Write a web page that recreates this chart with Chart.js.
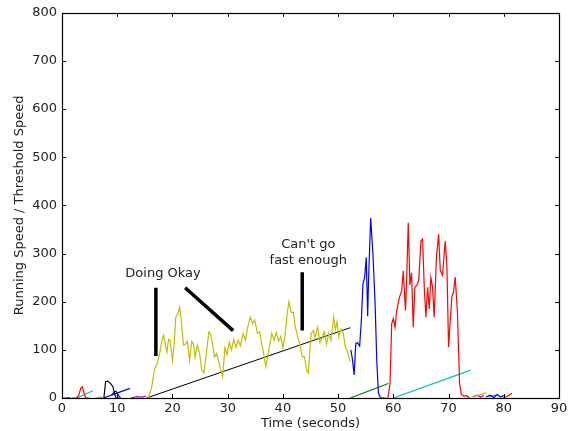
<!DOCTYPE html>
<html>
<head>
<meta charset="utf-8">
<script src="https://cdn.jsdelivr.net/npm/chart.js@4/dist/chart.umd.min.js"></script>
<style>
  html, body { margin: 0; padding: 0; background: #fff; }
  #wrap { width: 578px; height: 431px; }
</style>
</head>
<body>
<div id="wrap"><canvas id="speedChart" width="578" height="431"></canvas></div>
<script>
// tick values
const xTicks = [0, 10, 20, 30, 40, 50, 60, 70, 80, 90];
const yTicks = [0, 100, 200, 300, 400, 500, 600, 700, 800];

// main runs (time in seconds, speed ratio)
const yellowT = [15.6, 16.2, 16.8, 17.2, 17.7, 18.1, 18.4, 18.7, 19.0, 19.3, 19.6, 20.0, 20.3, 20.6, 21.0, 21.3, 21.6, 22.0, 22.4, 22.7,
  23.1, 23.5, 23.8, 24.1, 24.5, 24.9, 25.3, 25.7, 26.2, 26.6, 26.9, 27.3, 27.6, 28.0, 28.3, 28.6, 29.1, 29.5, 29.9, 30.3,
  30.7, 31.1, 31.5, 31.9, 32.3, 32.8, 33.2, 33.6, 34.1, 34.5, 34.9, 35.4, 35.8, 36.2, 36.5, 36.9, 37.3, 37.7, 38.0, 38.4,
  38.8, 39.2, 39.6, 40.0, 40.4, 40.8, 41.1, 41.5, 41.9, 42.2, 42.7, 43.1, 43.5, 43.9, 44.3, 44.6, 45.1, 45.5, 45.8, 46.3,
  46.7, 47.1, 47.5, 47.9, 48.3, 48.7, 49.2, 49.5, 49.8, 50.1, 50.5, 50.9, 51.3, 51.7, 52.2];
const yellowV = [0, 20, 62, 70, 93, 120, 130, 112, 95, 122, 118, 78, 110, 168, 175, 189, 160, 110, 112, 118,
  78, 118, 112, 85, 110, 95, 58, 52, 99, 137, 133, 110, 85, 92, 80, 65, 44, 104, 90, 116,
  100, 122, 105, 120, 108, 134, 120, 145, 168, 155, 162, 134, 138, 110, 93, 65, 90, 115, 134, 120,
  136, 118, 128, 104, 130, 178, 200, 178, 178, 150, 127, 110, 86, 86, 58, 52, 134, 140, 125, 147,
  115, 125, 138, 112, 134, 120, 168, 143, 158, 127, 143, 136, 108, 96, 75];

const blueT = [52.3, 52.6, 52.9, 53.2, 53.5, 53.9, 54.2, 54.5, 54.8, 55.1, 55.35, 55.5, 55.9, 56.3, 56.7, 57.0, 57.3, 57.7, 58.6];
const blueV = [100, 80, 48, 113, 115, 108, 160, 237, 250, 292, 170, 240, 374, 300, 196, 78, 10, 0, 0];

const redT = [59.0, 59.4, 59.7, 60.0, 60.3, 60.6, 61.1, 61.5, 61.8, 62.2, 62.4, 62.7, 63.0, 63.3, 63.6, 63.9, 64.3, 64.6, 65.0, 65.3,
  65.6, 65.9, 66.2, 66.5, 66.8, 67.1, 67.4, 67.8, 68.2, 68.5, 68.9, 69.4, 69.7, 70.0, 70.3, 70.6, 70.9, 71.2, 71.6, 72.0,
  72.3, 72.7, 73.3, 73.8];
const redV = [0, 30, 154, 165, 147, 180, 209, 222, 264, 182, 240, 364, 235, 260, 147, 230, 235, 245, 326, 330,
  230, 168, 230, 185, 250, 230, 168, 292, 340, 265, 255, 326, 275, 106, 160, 210, 220, 251, 180, 30,
  8, 4, 5, 0];

// straight trend segments
const blackT = [15.3, 52.2];
const blackV = [0, 146];
const greenT = [52.2, 59.1];
const greenV = [0, 30];
const cyanT = [60.0, 74.0];
const cyanV = [0, 58];

// short early/late runs near zero
const redAT = [1.8, 2.6, 3.0, 3.4, 3.7, 4.0, 4.3, 5.0];
const redAV = [0, 0, 5, 20, 23, 10, 0, 0];
const cyanAT = [2.7, 5.6];
const cyanAV = [0, 15];
const blackAT = [7.2, 7.6, 7.9, 8.3, 8.8, 9.2, 9.5, 9.8, 10.4];
const blackAV = [0, 2, 34, 35, 30, 24, 10, 0, 0];
const blueAT = [7.5, 12.3];
const blueAV = [0, 20];
const blueBT = [9.0, 9.4, 9.8, 10.2, 10.6];
const blueBV = [6, 12, 14, 6, 0];
const magentaAT = [12.5, 13.5, 14.5, 15.2];
const magentaAV = [0, 3, 2, 4];
const yellowAT = [6.0, 7.0, 7.6];
const yellowAV = [0, 2, 1];
const greenAT = [0.3, 1.5];
const greenAV = [0, 1];
const yellowBT = [74.2, 75.5, 76.9];
const yellowBV = [2, 6, 11];
const magentaBT = [74.5, 75.2, 75.8, 76.4];
const magentaBV = [3, 6, 2, 5];
const blueCT = [76.8, 77.5, 78.2, 78.8, 79.4, 80.0];
const blueCV = [2, 6, 1, 7, 2, 5];
const greenBT = [77.3, 78.6];
const greenBV = [3, 6];
const redBT = [79.9, 80.7, 81.5];
const redBV = [0, 4, 10];

// annotation pointers
const ann1T = [17.0, 17.0];
const ann1V = [229, 87];
const ann2T = [22.3, 31.0];
const ann2V = [229, 140];
const ann3T = [43.5, 43.5];
const ann3V = [261, 140];

const notes = [
  { text: 'Doing Okay', t: 18.3, v: 258 },
  { text: "Can't go", t: 44.6, v: 318 },
  { text: 'fast enough', t: 44.6, v: 285 }
];

const FONT = 'DejaVu Sans';
const TEXT = '#222';

function pts(ts, vs) {
  return ts.map((t, i) => ({ x: t, y: vs[i] }));
}

function series(ts, vs, color, width) {
  return {
    data: pts(ts, vs),
    borderColor: color,
    borderWidth: width || 1.2,
    pointRadius: 0,
    tension: 0,
    fill: false
  };
}

// matplotlib-style frame: box + inward ticks on all four sides, plus text notes
const framePlugin = {
  id: 'frame',
  afterDatasetsDraw(chart) {
    const { ctx, chartArea: a, scales } = chart;
    ctx.save();
    ctx.strokeStyle = '#000';
    ctx.lineWidth = 1;
    ctx.beginPath();
    xTicks.forEach(v => {
      const px = Math.round(scales.x.getPixelForValue(v)) + 0.5;
      ctx.moveTo(px, a.bottom); ctx.lineTo(px, a.bottom - 4);
      ctx.moveTo(px, a.top); ctx.lineTo(px, a.top + 4);
    });
    yTicks.forEach(v => {
      const py = Math.round(scales.y.getPixelForValue(v)) + 0.5;
      ctx.moveTo(a.left, py); ctx.lineTo(a.left + 4, py);
      ctx.moveTo(a.right, py); ctx.lineTo(a.right - 4, py);
    });
    ctx.stroke();
    ctx.lineWidth = 1.2;
    ctx.strokeRect(Math.round(a.left) + 0.5, Math.round(a.top) + 0.5,
      Math.round(a.right - a.left), Math.round(a.bottom - a.top));

    ctx.fillStyle = TEXT;
    ctx.font = '13px "' + FONT + '"';
    ctx.textAlign = 'center';
    ctx.textBaseline = 'middle';
    notes.forEach(n => {
      ctx.fillText(n.text, scales.x.getPixelForValue(n.t), scales.y.getPixelForValue(n.v));
    });
    ctx.restore();
  }
};

new Chart(document.getElementById('speedChart'), {
  type: 'line',
  data: {
    datasets: [
      series(greenAT, greenAV, '#008000'),
      series(redAT, redAV, '#ff0000'),
      series(cyanAT, cyanAV, '#00bfbf'),
      series(yellowAT, yellowAV, '#e0a000'),
      series(blackAT, blackAV, '#000000'),
      series(blueAT, blueAV, '#0000ff'),
      series(blueBT, blueBV, '#0000ff'),
      series(magentaAT, magentaAV, '#bf00bf'),
      series(yellowT, yellowV, '#bfbf00'),
      series(blueT, blueV, '#0000ff'),
      series(redT, redV, '#ff0000'),
      series(blackT, blackV, '#000000', 1),
      series(greenT, greenV, '#008000'),
      series(cyanT, cyanV, '#00bfbf'),
      series(yellowBT, yellowBV, '#e0a000'),
      series(magentaBT, magentaBV, '#bf00bf'),
      series(blueCT, blueCV, '#0000ff'),
      series(greenBT, greenBV, '#00bfbf'),
      series(redBT, redBV, '#ff0000'),
      series(ann1T, ann1V, '#000000', 3.5),
      series(ann2T, ann2V, '#000000', 3.5),
      series(ann3T, ann3V, '#000000', 3.5)
    ]
  },
  options: {
    responsive: false,
    animation: false,
    layout: { padding: { top: 11, right: 19, left: 0, bottom: 0 } },
    plugins: {
      legend: { display: false },
      tooltip: { enabled: false }
    },
    scales: {
      x: {
        type: 'linear',
        min: 0,
        max: 90,
        afterBuildTicks: s => { s.ticks = xTicks.map(v => ({ value: v })); },
        afterFit: s => { s.height = 33; },
        grid: { display: false, drawTicks: false },
        border: { display: false },
        ticks: { padding: 3, color: TEXT, font: { family: FONT, size: 13 }, maxRotation: 0 },
        title: {
          display: true,
          text: 'Time (seconds)',
          color: TEXT,
          font: { family: FONT, size: 13 },
          padding: { top: 0, bottom: 0 }
        }
      },
      y: {
        type: 'linear',
        min: 0,
        max: 800,
        afterBuildTicks: s => { s.ticks = yTicks.map(v => ({ value: v })); },
        afterFit: s => { s.width = 62; },
        grid: { display: false, drawTicks: false },
        border: { display: false },
        ticks: { padding: 5, color: TEXT, font: { family: FONT, size: 13 } },
        title: {
          display: true,
          text: 'Running Speed / Threshold Speed',
          color: TEXT,
          font: { family: FONT, size: 13 },
          padding: { top: 12, bottom: 0 }
        }
      }
    }
  },
  plugins: [framePlugin]
});
</script>
</body>
</html>
